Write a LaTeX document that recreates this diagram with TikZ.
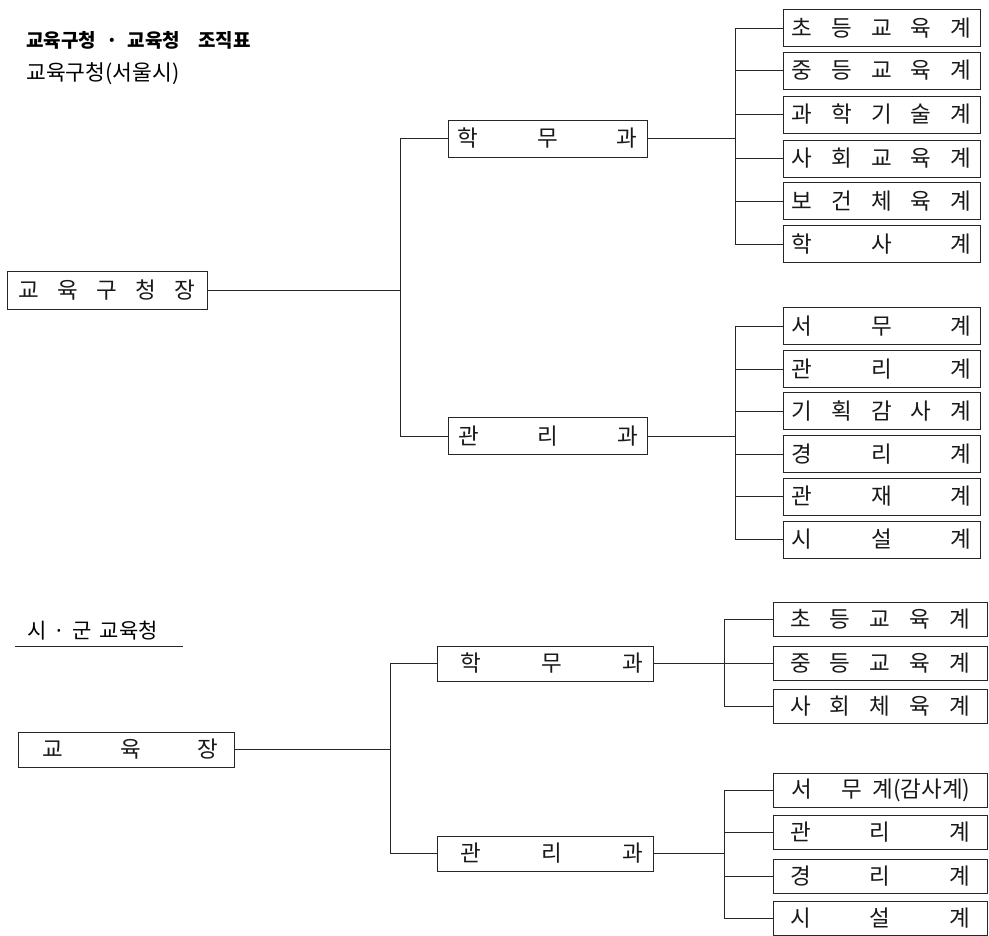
\documentclass[tikz,border=0pt]{standalone}
\usepackage{fontspec}
\setmainfont{Noto Sans CJK KR}
\newcommand{\sprd}[2]{\makebox[#1pt]{#2}}
\begin{document}
\begin{tikzpicture}[x=1pt,y=-1pt,
  line width=0.8pt, draw=black!85,
  unitbox/.style={draw=black!85, line width=0.8pt, rectangle, inner sep=0pt,
    font=\fontsize{22.5}{24}\selectfont, text=black!90},
  topbox/.style={unitbox, minimum width=197pt, minimum height=37pt},
  botbox/.style={unitbox, minimum width=214pt, minimum height=34pt},
  conn/.style={draw=black!85, line width=0.8pt}]
\useasboundingbox (0,0) rectangle (989,936);

% ---------- titles ----------
\node[anchor=west, inner sep=0pt, font=\fontsize{19}{21}\selectfont\bfseries] (title) at (26,40)
  {교육구청\hspace{10pt}·\hspace{10pt}교육청\hspace{18pt}조직표};
\node[anchor=west, inner sep=0pt, font=\fontsize{21.5}{23}\selectfont] (subtitle) at (26,74)
  {교육구청(서울시)};

% ---------- top chart ----------
\node[unitbox, minimum width=200pt, minimum height=38pt] (root1) at (107,290)
  {\sprd{177}{교\hfill 육\hfill 구\hfill 청\hfill 장}};
\node[unitbox, minimum width=199pt, minimum height=37pt] (hak1) at (547.5,138.5)
  {\sprd{180}{학\hfill 무\hfill 과}};
\node[unitbox, minimum width=199pt, minimum height=37pt] (gwan1) at (548,436)
  {\sprd{180}{관\hfill 리\hfill 과}};

\node[topbox] (a1) at (881.5,28)    {\sprd{180}{초\hfill 등\hfill 교\hfill 육\hfill 계}};
\node[topbox] (a2) at (881.5,70.5)  {\sprd{180}{중\hfill 등\hfill 교\hfill 육\hfill 계}};
\node[topbox] (a3) at (881.5,114.5) {\sprd{180}{과\hfill 학\hfill 기\hfill 술\hfill 계}};
\node[topbox] (a4) at (881.5,158.5) {\sprd{180}{사\hfill 회\hfill 교\hfill 육\hfill 계}};
\node[topbox] (a5) at (881.5,201)   {\sprd{180}{보\hfill 건\hfill 체\hfill 육\hfill 계}};
\node[topbox] (a6) at (881.5,244)   {\sprd{180}{학\hfill 사\hfill 계}};

\node[topbox] (b1) at (881.5,326)   {\sprd{180}{서\hfill 무\hfill 계}};
\node[topbox] (b2) at (881.5,369)   {\sprd{180}{관\hfill 리\hfill 계}};
\node[topbox] (b3) at (881.5,411)   {\sprd{180}{기\hfill 획\hfill 감\hfill 사\hfill 계}};
\node[topbox] (b4) at (881.5,454)   {\sprd{180}{경\hfill 리\hfill 계}};
\node[topbox] (b5) at (881.5,496.5) {\sprd{180}{관\hfill 재\hfill 계}};
\node[topbox] (b6) at (881.5,539.5) {\sprd{180}{시\hfill 설\hfill 계}};

\coordinate (j1) at (400,290);
\coordinate (ja) at (735.5,138.5);
\coordinate (jb) at (735.5,436);

\draw[conn] (root1.east) -- (root1.east -| j1);
\draw[conn] (hak1.west) -- (hak1.west -| j1) -- (gwan1.west -| j1) -- (gwan1.west);
\draw[conn] (hak1.east) -- (ja);
\draw[conn] (a1.west) -- (a1.west -| ja) -- (a6.west -| ja) -- (a6.west);
\foreach \n in {a2,a3,a4,a5} \draw[conn] (\n.west) -- (\n.west -| ja);
\draw[conn] (gwan1.east) -- (jb);
\draw[conn] (b1.west) -- (b1.west -| jb) -- (b6.west -| jb) -- (b6.west);
\foreach \n in {b2,b3,b4,b5} \draw[conn] (\n.west) -- (\n.west -| jb);

% ---------- bottom chart ----------
\node[anchor=west, inner sep=0pt, font=\fontsize{21}{23}\selectfont] (head2) at (27,631)
  {시\hspace{7pt}·\hspace{7pt}군\hspace{8pt}교육청};
\coordinate (ulL) at (15,646);
\coordinate (ulR) at (183,646);
\draw[line width=0.9pt, draw=black!85] (ulL) -- (ulR);

\node[unitbox, minimum width=216pt, minimum height=35pt] (root2) at (126,749.5)
  {\hspace{9pt}\sprd{175}{교\hfill 육\hfill 장}};
\node[unitbox, minimum width=216pt, minimum height=35pt] (hak2) at (545,663.5)
  {\hspace{13pt}\sprd{183}{학\hfill 무\hfill 과}};
\node[unitbox, minimum width=216pt, minimum height=35pt] (gwan2) at (545,853.5)
  {\hspace{13pt}\sprd{183}{관\hfill 리\hfill 과}};

\node[botbox] (c1) at (880,619.5) {\sprd{180}{초\hfill 등\hfill 교\hfill 육\hfill 계}};
\node[botbox] (c2) at (880,663)   {\sprd{180}{중\hfill 등\hfill 교\hfill 육\hfill 계}};
\node[botbox] (c3) at (880,706.5) {\sprd{180}{사\hfill 회\hfill 체\hfill 육\hfill 계}};

\node[botbox] (d1) at (880,790)   {\hspace{11pt}\makebox[189pt][l]{서\hspace{30pt}무\hspace{10pt}계(감사계)}};
\node[botbox] (d2) at (880,832.5) {\sprd{180}{관\hfill 리\hfill 계}};
\node[botbox] (d3) at (880,876)   {\sprd{180}{경\hfill 리\hfill 계}};
\node[botbox] (d4) at (880,918)   {\sprd{180}{시\hfill 설\hfill 계}};

\coordinate (j2) at (390,749.5);
\coordinate (jc) at (724.5,663.5);
\coordinate (jd) at (724.5,853.5);

\draw[conn] (root2.east) -- (root2.east -| j2);
\draw[conn] (hak2.west) -- (hak2.west -| j2) -- (gwan2.west -| j2) -- (gwan2.west);
\draw[conn] (hak2.east) -- (jc);
\draw[conn] (c1.west) -- (c1.west -| jc) -- (c3.west -| jc) -- (c3.west);
\draw[conn] (c2.west) -- (c2.west -| jc);
\draw[conn] (gwan2.east) -- (jd);
\draw[conn] (d1.west) -- (d1.west -| jd) -- (d4.west -| jd) -- (d4.west);
\foreach \n in {d2,d3} \draw[conn] (\n.west) -- (\n.west -| jd);
\end{tikzpicture}
\end{document}
